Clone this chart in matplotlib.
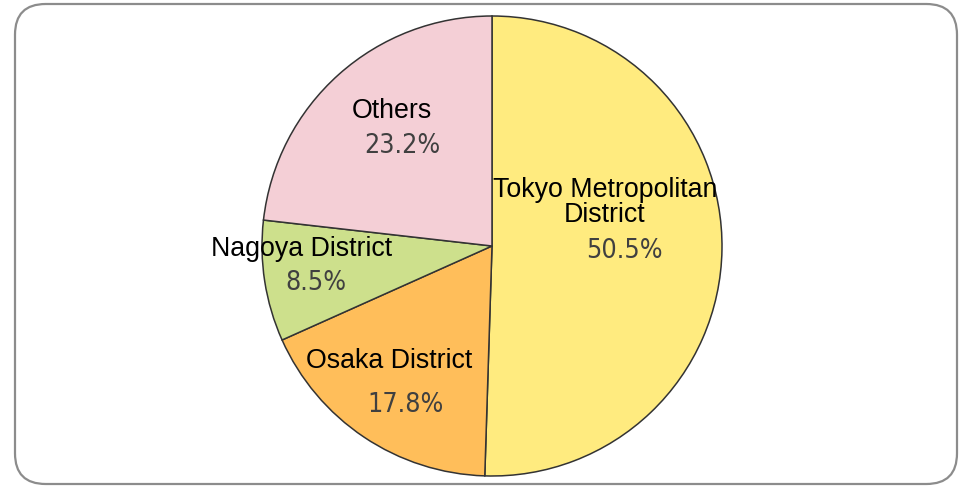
import matplotlib
matplotlib.use("Agg")
import matplotlib.pyplot as plt
from matplotlib.patches import FancyBboxPatch

categories = ["Tokyo Metropolitan\nDistrict", "Osaka District", "Nagoya District", "Others"]
values = [50.5, 17.8, 8.5, 23.2]
colors = ["#FFEB7F", "#FFBE5A", "#CDE08C", "#F4CFD6"]

# label anchor positions (figure pixels, from top-left): name baseline, percent baseline
name_pos = [(605, 222), (389, 368), (302, 256), (392, 118)]
pct_pos = [(624, 258), (406, 412), (316, 290), (402, 153)]

W, H = 959, 488
fig = plt.figure(figsize=(W / 100, H / 100), dpi=100)
fig.patch.set_facecolor("white")

cx, cy, r = 492, 246, 230
ax = fig.add_axes([(cx - r) / W, (H - cy - r) / H, 2 * r / W, 2 * r / H])
ax.pie(values, colors=colors, startangle=90, counterclock=False, radius=1,
       wedgeprops=dict(edgecolor="#333333", linewidth=1.1))
ax.set_xlim(-1, 1)
ax.set_ylim(-1, 1)
ax.set_aspect("auto")
ax.axis("off")

for cat, v, (nx, ny), (px, py) in zip(categories, values, name_pos, pct_pos):
    fig.text(nx / W, 1 - ny / H, cat, ha="center", va="baseline",
             fontsize=19.3, family=["Liberation Sans", "DejaVu Sans"],
             color="black", linespacing=0.93, multialignment="center")
    fig.text(px / W, 1 - py / H, f"{v:.1f}%", ha="center", va="baseline",
             fontsize=19.2, family=["DejaVu Sans"], fontstretch="condensed",
             color="#404040")

border = FancyBboxPatch((15 / W, 4 / H), (957 - 15) / W, (484 - 4) / H,
                        boxstyle="round,pad=0,rounding_size=0.032",
                        transform=fig.transFigure, facecolor="none",
                        edgecolor="#8C8C8C", linewidth=1.6, mutation_aspect=W / H)
fig.patches.append(border)

fig.savefig("out.png", dpi=100)
